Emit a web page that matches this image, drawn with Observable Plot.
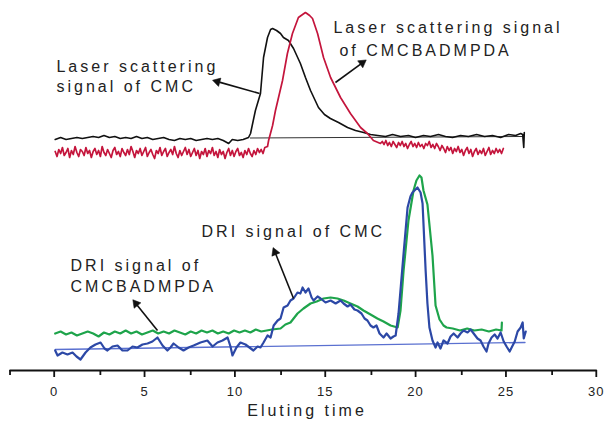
<!DOCTYPE html>
<html>
<head>
<meta charset="utf-8">
<script src="https://cdn.jsdelivr.net/npm/d3@7"></script>
<script src="https://cdn.jsdelivr.net/npm/@observablehq/plot@0.6"></script>
<style>
  html, body { margin: 0; padding: 0; background: #fff; }
  #chart svg text { letter-spacing: 3px; }
  #chart svg g[aria-label="x-axis tick label"] text { letter-spacing: 1px; }
</style>
</head>
<body>
<div id="chart"></div>
<script>
// ---- Data (eluting time, signal in arbitrary units) ----
const laserCMC = [
  [0,231],[0.3,233],[0.6,231],[0.9,232],[1.2,233],[1.5,232],[1.8,233],[2.1,234],[2.4,233],[2.7,235],
  [3.0,233],[3.3,234],[3.6,232],[3.9,233],[4.2,232],[4.5,234],[4.8,232],[5.1,233],[5.4,231],[5.7,232],
  [6.0,233],[6.3,231],[6.6,230],[6.9,232],[7.2,231],[7.5,232],[7.8,230],[8.1,231],[8.4,232],[8.7,231],
  [9.0,232],[9.3,230],[9.6,227],[9.8,231],[10.1,230],[10.4,231],[10.7,233],
  [10.81,237],[11.08,260],[11.36,277],[11.53,313],[11.75,333],[11.92,341],[12.03,342],[12.25,340],
  [12.47,337],[12.63,333],[12.91,330],[13.19,322],[13.57,307],[13.85,293],[14.13,280],[14.57,263],
  [14.9,256],[15.23,252],[15.68,248],[16.18,243],[16.62,240],[17.07,238],[17.45,236],[17.85,235],
  [18.28,234],[18.67,236],[19.11,234],[19.55,235],[19.94,233],[20.38,235],[20.77,234],[21.21,236],
  [21.6,234],[21.99,233],[22.43,235],[22.87,234],[23.32,236],[23.76,234],[24.2,235],[24.65,233],
  [25.09,236],[25.48,235],[25.76,237],[25.87,236],[25.93,223],[25.96,238]
];
const laserCMCBADMPDA = [
  [0,219],[0.1,214],[0.2,221],[0.3,217],[0.4,223],[0.5,215],[0.6,218],[0.7,222],[0.8,213],[0.9,220],
  [1.0,216],[1.1,224],[1.2,218],[1.3,214],[1.4,221],[1.5,219],[1.6,215],[1.7,223],[1.8,217],[1.9,220],
  [2.0,213],[2.1,219],[2.2,222],[2.3,216],[2.4,220],[2.5,214],[2.6,224],[2.7,218],[2.8,215],[2.9,221],
  [3.0,217],[3.1,213],[3.2,220],[3.3,223],[3.4,216],[3.5,219],[3.6,214],[3.7,222],[3.8,218],[3.9,215],
  [4.0,221],[4.1,216],[4.2,224],[4.3,219],[4.4,213],[4.5,220],[4.6,217],[4.7,222],[4.8,215],[4.9,219],
  [5.0,223],[5.1,214],[5.2,218],[5.3,221],[5.4,216],[5.5,212],[5.6,220],[5.7,217],[5.8,223],[5.9,215],
  [6.0,219],[6.1,222],[6.2,214],[6.3,218],[6.4,221],[6.5,216],[6.6,224],[6.7,217],[6.8,213],[6.9,220],
  [7.0,215],[7.1,219],[7.2,223],[7.3,216],[7.4,221],[7.5,214],[7.6,218],[7.7,222],[7.8,215],[7.9,220],
  [8.0,212],[8.1,219],[8.2,216],[8.3,222],[8.4,214],[8.5,220],[8.6,217],[8.7,223],[8.8,215],[8.9,219],
  [9.0,213],[9.1,221],[9.2,216],[9.3,219],[9.4,212],[9.5,218],[9.6,222],[9.7,215],[9.8,220],[9.9,214],
  [10.0,219],[10.1,222],[10.2,215],[10.3,218],[10.4,213],[10.5,220],[10.6,216],[10.7,222],[10.8,217],[10.9,214],
  [11.0,220],[11.1,216],[11.2,222],[11.3,218],[11.4,221],[11.5,217],[11.6,223],[11.75,224],
  [11.81,230],[12.03,245],[12.19,260],[12.58,290],[12.85,317],[13.13,337],[13.46,353],[13.69,356],
  [13.85,358],[14.08,355],[14.24,352],[14.52,337],[14.85,313],[15.24,293],[15.79,273],[16.34,257],
  [16.9,243],[17.28,237],[17.61,230],[18.0,227],
  [18.1,229],[18.2,226],[18.3,230],[18.4,225],[18.5,228],[18.6,224],[18.7,229],[18.8,226],[18.9,223],[19.0,228],
  [19.1,225],[19.2,229],[19.3,224],[19.4,227],[19.5,222],[19.6,226],[19.7,229],[19.8,224],[19.9,227],[20.0,223],
  [20.1,228],[20.2,224],[20.3,226],[20.4,222],[20.5,227],[20.6,225],[20.7,229],[20.8,223],[20.9,226],[21.0,222],
  [21.1,227],[21.2,224],[21.3,220],[21.4,225],[21.5,222],[21.6,218],[21.7,224],[21.8,220],[21.9,223],[22.0,217],
  [22.1,222],[22.2,219],[22.3,224],[22.4,218],[22.5,221],[22.6,215],[22.7,220],[22.8,223],[22.9,217],[23.0,221],
  [23.1,214],[23.2,219],[23.3,222],[23.4,216],[23.5,220],[23.6,217],[23.7,222],[23.8,215],[23.9,219],[24.0,223],
  [24.1,216],[24.2,220],[24.3,217],[24.4,222],[24.5,218],[24.6,221],[24.7,217],[24.8,222]
];
const driCMCBADMPDA = [
  [0,37],[0.3,39],[0.6,36],[0.9,38],[1.2,35],[1.5,37],[1.8,39],[2.1,37],[2.4,34],[2.7,38],
  [3.0,36],[3.3,39],[3.6,37],[3.9,40],[4.2,37],[4.5,39],[4.8,36],[5.1,38],[5.4,40],[5.7,37],
  [6.0,39],[6.3,37],[6.6,40],[6.9,38],[7.2,36],[7.5,39],[7.8,37],[8.1,40],[8.4,38],[8.7,40],
  [9.0,37],[9.3,39],[9.6,37],[9.9,40],[10.2,38],[10.5,40],[10.8,38],[11.1,41],[11.4,39],[11.7,40],[12.0,41],
  [12.47,42],[12.74,46],[13.02,48],[13.41,57],[13.74,62],[14.13,67],[14.47,69],[14.85,72],[15.24,73],
  [15.62,72],[15.96,70],[16.34,67],[16.73,64],[17.06,60],[17.45,56],[17.83,52],[18.17,49],[18.56,45],[18.95,43],
  [19.11,60],[19.28,100],[19.55,150],[19.83,180],[19.99,190],[20.16,195],[20.27,193],[20.38,180],
  [20.6,166],[20.88,115],[21.05,65],[21.27,51],[21.49,45],[21.66,43],
  [22.0,42],[22.4,40],[22.8,42],[23.2,40],[23.6,41],[24.0,39],[24.4,41],[24.7,40],[24.72,48]
];
const driCMC = [
  [0,20],[0.13,15],[0.4,18],[0.68,16],[0.96,18],[1.18,14],[1.4,11],[1.68,18],[1.95,23],[2.23,26],
  [2.51,28],[2.73,22],[2.89,20],[3.17,24],[3.45,25],[3.72,20],[4.0,20],[4.28,24],[4.55,23],[4.83,26],
  [5.11,27],[5.38,29],[5.66,33],[5.94,25],[6.21,20],[6.38,23],[6.55,27],[6.83,23],[7.1,20],[7.38,23],
  [7.66,25],[8.04,28],[8.42,30],[8.71,24],[8.98,28],[9.26,30],[9.54,33],[9.7,24],[9.81,15],[10.03,23],
  [10.25,28],[10.53,26],[10.75,23],[10.97,20],[11.2,24],[11.36,23],[11.53,28],[11.75,35],[11.92,33],
  [12.09,45],[12.31,50],[12.47,52],[12.64,63],[12.86,65],[13.02,70],[13.19,72],[13.41,78],[13.57,77],
  [13.69,83],[13.85,78],[14.02,82],[14.19,73],[14.3,70],[14.52,74],[14.69,72],[14.96,68],[15.24,70],
  [15.52,67],[15.79,70],[15.96,67],[16.18,64],[16.34,66],[16.56,61],[16.73,60],[16.95,57],[17.12,52],
  [17.28,50],[17.45,45],[17.61,43],[17.78,45],[17.95,37],[18.17,33],[18.34,37],[18.56,32],[18.72,34],
  [18.84,35],[19.0,57],[19.28,117],[19.5,163],[19.66,174],[19.77,178],[19.94,181],[20.05,183],[20.22,178],
  [20.33,167],[20.5,100],[20.6,67],[20.71,43],[20.88,30],[21.05,23],[21.16,28],[21.32,22],[21.49,30],
  [21.71,27],[21.88,34],[22.05,37],[22.27,33],[22.43,37],[22.6,40],[22.82,38],[22.99,41],[23.2,36],
  [23.37,32],[23.54,30],[23.7,24],[23.87,19],[23.98,27],[24.15,33],[24.32,36],[24.48,32],[24.65,38],
  [24.82,29],[24.98,24],[25.15,19],[25.26,23],[25.43,29],[25.59,39],[25.76,43],[25.87,48],[25.93,32],[26.04,39]
];
const laserBaseline = [[10.8,232.5],[25.9,234]];
const driBaseline = [[0,21],[26,28]];

const majorTicks = [0, 5, 10, 15, 20, 25, 30];
const minorTicks = [-2.5, 2.5, 7.5, 12.5, 17.5, 22.5, 27.5];
const axisLabel = "Eluting time";

const labels = [
  {text: "Laser scattering", x: 0.07, y: 304},
  {text: "signal of CMC", x: 0.07, y: 284},
  {text: "Laser scattering signal", x: 15.4, y: 342.5},
  {text: "of CMCBADMPDA", x: 15.73, y: 320},
  {text: "DRI signal of", x: 0.85, y: 105},
  {text: "CMCBADMPDA", x: 0.85, y: 84},
  {text: "DRI signal of CMC", x: 8.1, y: 138.5}
];
const arrows = [
  {x1: 11.31, y1: 277, x2: 8.76, y2: 290},
  {x1: 15.51, y1: 288, x2: 17.17, y2: 310},
  {x1: 5.66, y1: 40, x2: 4.33, y2: 70},
  {x1: 13.19, y1: 72, x2: 12.08, y2: 122}
];

// ---- Layout ----
const W = 605, H = 424, mT = 0, mB = 54, mL = 0, mR = 0;
const X0 = -3.027, X1 = 30.454, Y0 = 0, Y1 = 370;
const kx = (W - mL - mR) / (X1 - X0);
const ky = (H - mT - mB) / (Y1 - Y0);

const HEAD_R = 3.2;
const heads = arrows.map(a => {
  const dx = (a.x2 - a.x1) * kx, dy = -(a.y2 - a.y1) * ky;
  const len = Math.hypot(dx, dy), ux = dx / len, uy = dy / len;
  const back = 4;
  return {
    x: a.x2 - back * ux / kx, y: a.y2 + back * uy / ky,
    sx: a.x1, sy: a.y1,
    ex: a.x2 - 6 * ux / kx, ey: a.y2 + 6 * uy / ky,
    rotate: Math.atan2(dx, -dy) * 180 / Math.PI
  };
});

const lineOpts = (color, w) => ({x: d => d[0], y: d => d[1], stroke: color, strokeWidth: w, strokeLinejoin: "round"});

const chart = Plot.plot({
  width: W, height: H,
  marginTop: mT, marginBottom: mB, marginLeft: mL, marginRight: mR,
  style: {fontFamily: "'Liberation Sans', Arial, sans-serif", fontSize: "14px", background: "#fff", color: "#222", overflow: "visible"},
  x: {domain: [X0, X1], axis: null},
  y: {domain: [Y0, Y1], axis: null},
  marks: [
    Plot.line(laserBaseline, lineOpts("#333", 1)),
    Plot.line(laserCMC, lineOpts("#111", 1.6)),
    Plot.line(laserCMCBADMPDA, lineOpts("#c4153c", 1.7)),
    Plot.line(driBaseline, lineOpts("#5a70d0", 1.3)),
    Plot.line(driCMCBADMPDA, lineOpts("#1ea44b", 2.2)),
    Plot.line(driCMC, lineOpts("#2c48a6", 2.2)),
    Plot.link(heads, {x1: "sx", y1: "sy", x2: "ex", y2: "ey", stroke: "#111", strokeWidth: 1.6}),
    Plot.dot(heads, {x: "x", y: "y", symbol: "triangle", r: HEAD_R, fill: "#111", stroke: "#111", strokeWidth: 0.5, rotate: "rotate"}),
    Plot.text(labels, {x: "x", y: "y", text: "text", textAnchor: "start", lineAnchor: "middle", fontSize: 16, fill: "#222"}),
    Plot.ruleY([0], {x1: -2.5, x2: 30, stroke: "#111", strokeWidth: 2}),
    Plot.axisX(majorTicks, {tickSize: 7, tickPadding: 9, fontSize: 13, dx: -1, stroke: "#111", strokeWidth: 1.8, label: null, tickFormat: d => String(d)}),
    Plot.axisX(minorTicks, {tickSize: 5, tickFormat: () => "", stroke: "#111", strokeWidth: 1.8, label: null}),
    Plot.text([axisLabel], {frameAnchor: "bottom", dx: 4, dy: 45, fontSize: 16, fill: "#222"})
  ]
});
document.getElementById("chart").appendChild(chart);
</script>
</body>
</html>
